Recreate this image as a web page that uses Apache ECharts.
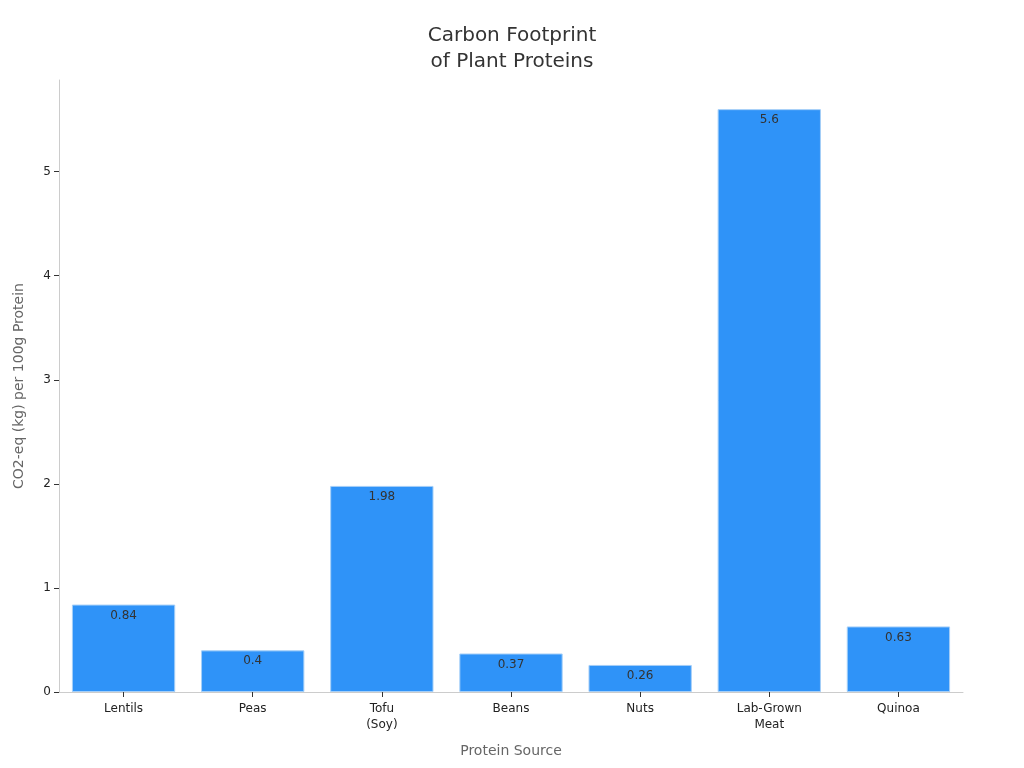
<!DOCTYPE html>
<html style="height: 100%">
<head>
	<meta charset="utf-8">
	<title>Carbon Footprint of Plant Proteins</title>
	<script type="text/javascript" src="https://cdn.jsdelivr.net/npm/echarts@6/dist/echarts.min.js"></script>
</head>
<body style="height: 100%; margin: 0">
<div id="container" style="width: 1024px; height: 768px"></div>
<script type="text/javascript">
	var categories = ['Lentils', 'Peas', 'Tofu\n(Soy)', 'Beans', 'Nuts', 'Lab-Grown\nMeat', 'Quinoa'];
	var footprint = [0.84, 0.4, 1.98, 0.37, 0.26, 5.6, 0.63];
	var yTicks = [0, 1, 2, 3, 4, 5];

	var myChart = echarts.init(document.getElementById('container'));
	var font = 'DejaVu Sans';

	var option = {
		textStyle: {fontFamily: font},
		title: {
			text: 'Carbon Footprint\nof Plant Proteins',
			left: 'center',
			top: 18,
			textStyle: {fontSize: 20, fontWeight: 'normal', color: '#333', lineHeight: 26, fontFamily: font}
		},
		grid: {left: 59, right: 61, top: 80, bottom: 76},
		xAxis: {
			type: 'category',
			data: categories,
			name: 'Protein Source',
			nameLocation: 'middle',
			nameGap: 52,
			nameTextStyle: {fontSize: 14, color: '#666'},
			axisLine: {lineStyle: {color: '#ccc'}},
			axisTick: {show: true, alignWithLabel: true, length: 5, lineStyle: {color: '#333'}},
			axisLabel: {color: '#222', fontSize: 12, margin: 9, lineHeight: 16}
		},
		yAxis: {
			type: 'value',
			min: 0,
			max: 5.88,
			name: 'CO2-eq (kg) per 100g Protein',
			nameLocation: 'middle',
			nameGap: 33,
			nameTextStyle: {fontSize: 14, color: '#666'},
			axisLine: {show: true, lineStyle: {color: '#ccc'}},
			axisTick: {show: true, length: 5, customValues: yTicks, lineStyle: {color: '#333'}},
			splitLine: {show: false},
			axisLabel: {color: '#222', fontSize: 12, margin: 8, customValues: yTicks}
		},
		series: [{
			type: 'bar',
			data: footprint,
			barWidth: '80%',
			itemStyle: {color: '#2f93f8', borderColor: '#a5cff8', borderWidth: 1},
			label: {show: true, position: 'insideTop', color: '#333', fontSize: 12, distance: 5}
		}]
	};
	myChart.setOption(option);
</script>
</body>
</html>
